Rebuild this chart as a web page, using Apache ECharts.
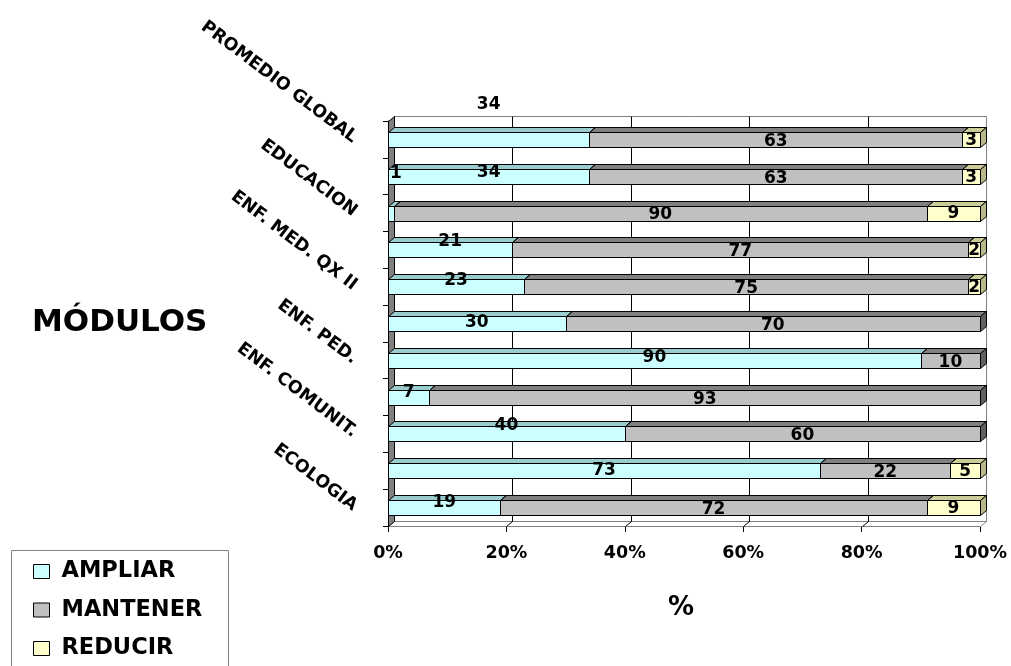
<!DOCTYPE html>
<html><head><meta charset="utf-8">
<script src="https://cdn.jsdelivr.net/npm/echarts@6/dist/echarts.min.js"></script>
<style>html,body{margin:0;padding:0;background:#fff}#c{width:1011px;height:666px}</style>
</head><body><div id="c"></div>
<script>
// ---- data (index 0 = bottom bar) ----
const categories = ['ECOLOGIA', '', 'ENF. COMUNIT.', '', 'ENF. PED.', '', 'ENF. MED. QX II', '', 'EDUCACION', '', 'PROMEDIO GLOBAL'];
const seriesNames = ['AMPLIAR', 'MANTENER', 'REDUCIR'];
const ampliar  = [19, 73, 40,  7, 90, 30, 23, 21,  1, 34, 34];
const mantener = [72, 22, 60, 93, 10, 70, 75, 77, 90, 63, 63];
const reducir  = [ 9,  5,  0,  0,  0,  0,  2,  2,  9,  3,  3];
const xTicks = [0, 20, 40, 60, 80, 100];

// ---- style ----
const DX = 6, DY = 5;
const FONT = 'DejaVu Sans';
const faceColors = [
  {front: '#CCFFFF', top: '#99CCCC', side: '#80B3B3'},
  {front: '#C0C0C0', top: '#808080', side: '#606060'},
  {front: '#FFFFCC', top: '#CCCC99', side: '#B8B888'}
];
const ampliarLabelDy = [-5, 0, -8, -5, -3, -1, -6, -8, 0, -4, 0];
const labelSpecial = {'0-8': [5, -39], '0-10': [0, -35]};

const values = [ampliar, mantener, reducir];
function segData(si) {
  return categories.map((c, i) => {
    let start = 0;
    for (let k = 0; k < si; k++) start += values[k][i];
    return [i, start, start + values[si][i], values[si][i]];
  });
}

function makeRender(si) {
  return function (params, api) {
    const ci = api.value(0), s = api.value(1), e = api.value(2), v = api.value(3);
    if (!(v > 0)) return null;
    const pa = api.coord([s, ci]), pb = api.coord([e, ci]);
    const band = api.size([0, 1])[1];
    const h = Math.round(band * 0.41);
    const x0 = Math.round(pa[0]) + 0.5, x1 = Math.round(pb[0]) + 0.5;
    const y0 = Math.round(pa[1] - h / 2) + 0.5, y1 = y0 + h;
    const c = faceColors[si];
    const children = [
      {type: 'polygon', z2: si * 3, shape: {points: [[x0, y0], [x1, y0], [x1 + DX, y0 - DY], [x0 + DX, y0 - DY]]},
        style: {fill: c.top, stroke: '#000', lineWidth: 1}},
      {type: 'polygon', z2: si * 3, shape: {points: [[x1, y0], [x1 + DX, y0 - DY], [x1 + DX, y1 - DY], [x1, y1]]},
        style: {fill: c.side, stroke: '#000', lineWidth: 1}},
      {type: 'rect', z2: si * 3 + 1, shape: {x: x0, y: y0, width: x1 - x0, height: h},
        style: {fill: c.front, stroke: '#000', lineWidth: 1}}
    ];
    let dx = 0, dy = si === 0 ? ampliarLabelDy[ci] : (si === 1 ? 2 : 1);
    const sp = labelSpecial[si + '-' + ci];
    if (sp) { dx = sp[0]; dy = sp[1]; }
    children.push({type: 'text', z2: 100, x: (pa[0] + pb[0]) / 2 + dx, y: pa[1] + dy,
      style: {text: String(v), fill: '#000', fontFamily: FONT, fontWeight: 'bold', fontSize: 17,
        align: 'center', verticalAlign: 'middle'}});
    return {type: 'group', children};
  };
}

function renderWalls(params, api) {
  const cs = params.coordSys;
  const L = Math.round(cs.x) + 0.5, T = Math.round(cs.y) + 0.5;
  const R = Math.round(cs.x + cs.width) + 0.5, B = Math.round(cs.y + cs.height) + 0.5;
  const children = [
    {type: 'rect', shape: {x: L + DX, y: T - DY, width: R - L, height: B - T},
      style: {fill: '#fff', stroke: '#808080', lineWidth: 1}},
    {type: 'polygon', shape: {points: [[L, B], [R, B], [R + DX, B - DY], [L + DX, B - DY]]},
      style: {fill: '#fff', stroke: '#808080', lineWidth: 1}},
    {type: 'polygon', shape: {points: [[L, T], [L + DX, T - DY], [L + DX, B - DY], [L, B]]},
      style: {fill: '#808080', stroke: '#000', lineWidth: 1}}
  ];
  xTicks.forEach(t => {
    if (t === 0 || t === 100) return;
    const x = Math.round(api.coord([t, 0])[0]) + 0.5;
    children.push({type: 'polyline', shape: {points: [[x + DX, T - DY], [x + DX, B - DY], [x, B]]},
      style: {stroke: '#000', fill: null, lineWidth: 1}});
  });
  return {type: 'group', children};
}

const chart = echarts.init(document.getElementById('c'), null, {renderer: 'canvas'});
const series = [{
  type: 'custom', name: '_walls', z: 1, silent: true, renderItem: renderWalls, data: [[0, 0]]
}];
seriesNames.forEach((n, si) => {
  series.push({
    type: 'custom', name: n, z: 2, renderItem: makeRender(si),
    itemStyle: {color: faceColors[si].front, borderColor: '#000', borderWidth: 1},
    encode: {x: [1, 2], y: 0},
    data: segData(si)
  });
});

chart.setOption({
  animation: false,
  backgroundColor: '#fff',
  grid: {left: 388, right: 31, top: 121, bottom: 140},
  xAxis: {
    type: 'value', min: 0, max: 100, interval: 20,
    axisLine: {show: true, lineStyle: {color: '#000', width: 1}},
    axisTick: {show: true, length: 6, lineStyle: {color: '#000'}},
    splitLine: {show: false},
    axisLabel: {formatter: '{value}%', color: '#000', fontFamily: FONT, fontWeight: 'bold', fontSize: 17.5, margin: 18}
  },
  yAxis: {
    type: 'category', data: categories,
    axisLine: {show: true, lineStyle: {color: '#000', width: 1}},
    axisTick: {show: true, length: 5, lineStyle: {color: '#000'}},
    axisLabel: {interval: 0, rotate: -37, margin: 33, color: '#000', fontFamily: FONT, fontWeight: 'bold', fontSize: 17.5}
  },
  legend: {
    orient: 'vertical', left: 33, top: 560, height: 160,
    itemWidth: 16, itemHeight: 14, itemGap: 15.5, padding: 0,
    textStyle: {fontFamily: FONT, fontWeight: 'bold', fontSize: 22.5, color: '#000', padding: [0, 0, 0, 7]},
    data: seriesNames.map((n, i) => ({name: n, icon: 'rect',
      itemStyle: {color: faceColors[i].front, borderColor: '#000', borderWidth: 1}}))
  },
  graphic: [
    {type: 'rect', shape: {x: 11.5, y: 550.5, width: 217, height: 130}, style: {fill: 'none', stroke: '#808080', lineWidth: 1}, silent: true},
    {type: 'text', left: 32, top: 307, style: {text: 'MÓDULOS', fill: '#000', fontFamily: FONT, fontWeight: 'bold', fontSize: 31}},
    {type: 'text', x: 681, y: 608, style: {text: '%', fill: '#000', fontFamily: FONT, fontWeight: 'bold', fontSize: 26, align: 'center', verticalAlign: 'middle'}}
  ],
  series
});
</script>
</body></html>
